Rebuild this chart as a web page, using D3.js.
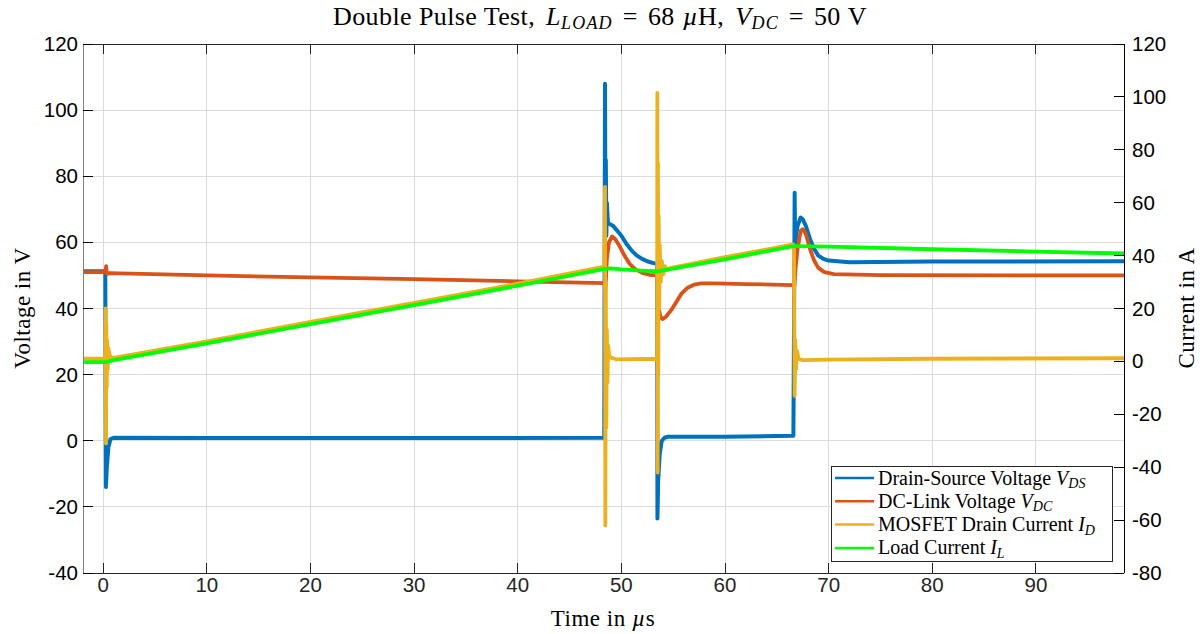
<!DOCTYPE html>
<html><head><meta charset="utf-8">
<script src="https://cdn.jsdelivr.net/npm/d3@7"></script>
<style>body{margin:0;background:#fff}svg{display:block}</style>
</head><body><svg id="c" width="1200" height="634"></svg>
<script>
// ---- data (time in µs) ----
const xTicks = [0,10,20,30,40,50,60,70,80,90];
const yLeftTicks = [-40,-20,0,20,40,60,80,100,120];
const yRightTicks = [-80,-60,-40,-20,0,20,40,60,80,100,120];
const seriesNames = ["Drain-Source Voltage","DC-Link Voltage","MOSFET Drain Current","Load Current"];
const seriesSubs = [["V","DS"],["V","DC"],["I","D"],["I","L"]];
const seriesColors = ["#0072BD","#D95319","#EDB120","#00FF00"];

const vds = [[-1.95,51.3],[0.2,51.3],[0.26,-14],[0.35,-8],[0.5,-2],[0.7,0.5],[1.0,0.9],[10,0.8],[30,0.8],[48.35,0.9],
  [48.42,108],[48.46,70],[48.5,85],[48.55,62],[48.6,72],[48.7,66],[48.9,65.5],[49.2,65],[49.6,63.5],[50,62],[50.5,59.5],
  [51,57.5],[51.5,56],[52,55],[52.5,54.3],[53,53.8],[53.45,53.5],
  [53.48,-23.5],[53.55,-12],[53.7,-4],[53.9,0],[54.2,1],[54.5,1.2],[60,1.2],[66.6,1.5],
  [66.65,30],[66.72,75],[66.78,55],[66.85,62],[67.0,65],[67.3,67.5],[67.5,67],[67.8,65],[68.2,61],[68.6,58],
  [69,56],[69.5,55],[70,54.5],[72,54],[80,54.2],[98.5,54.3]];
const vdc = [[-1.95,51.0],[0.2,51.0],[0.28,52.8],[0.35,50.5],[0.6,50.7],[10,50.0],[20,49.4],[30,48.9],[40,48.2],[48.4,47.7],
  [48.45,45],[48.6,55],[48.8,60],[49.1,61.8],[49.4,61],[49.8,59],[50.3,56],[50.8,53.5],[51.3,52],[52,50.8],[52.7,50.2],[53.45,50],
  [53.5,45],[53.6,40],[53.8,37.2],[54.0,36.8],[54.3,37.5],[54.8,39.5],[55.3,42],[55.8,44.5],[56.4,46.3],[57,47.2],[57.7,47.6],
  [59,47.6],[62,47.4],[66.6,47.1],
  [66.7,47],[66.8,52],[67.0,58],[67.3,63.5],[67.5,64],[67.8,62.5],[68.2,58],[68.6,54.5],[69,52.3],[69.6,51],[70.5,50.4],[75,50.1],[98.5,50.0]];
const iD = [[-1.95,1.0],[0.2,1.0],[0.24,20],[0.27,-31],[0.3,14],[0.34,-10],[0.38,8],[0.44,-3],[0.5,5],[0.6,2.5],[0.8,1.5],
  [1,1.3],[10,7.6],[20,14.9],[30,22.1],[40,29.4],[48.35,35.8],
  [48.42,66],[48.45,-62],[48.5,30],[48.55,-25],[48.6,12],[48.66,-8],[48.72,6],[48.8,3],[48.9,1.5],[49.5,0.8],[53.45,1.0],
  [53.47,101.5],[53.5,-42],[53.53,75],[53.56,-5],[53.6,55],[53.65,20],[53.7,44],[53.8,30],[53.9,38],[54.05,33],[54.2,36],
  [54.4,34.5],[54.7,35.3],[60,39.4],[66.6,44.2],
  [66.65,43],[66.72,-13],[66.78,8],[66.85,-3],[66.95,4],[67.1,1],[67.5,0.5],[70,0.7],[80,1.0],[98.5,1.2]];
const iL = [[-1.95,-0.3],[0.3,-0.3],[1,0.5],[10,6.8],[20,14.1],[30,21.3],[40,28.6],[48.4,35.0],[49,35.2],[50,34.8],
  [52,34.3],[53.5,34.0],[54,34.4],[60,38.6],[66.6,43.6],[67,43.6],[70,43.4],[80,42.4],[90,41.5],[98.5,40.8]];

// ---- layout ----
const svg = d3.select("#c");
const L = 83, R = 1124, T = 44, B = 573;
const x = d3.scaleLinear().domain([-1.95, 98.5]).range([L, R]);
const yL = d3.scaleLinear().domain([-40, 120]).range([B, T]);
const yR = d3.scaleLinear().domain([-80, 120]).range([B, T]);
const sans = "'Liberation Sans', Arial, sans-serif";
const serif = "'Liberation Serif', 'DejaVu Serif', serif";
const tickFs = 20.5;

svg.append("defs").append("clipPath").attr("id","clip")
  .append("rect").attr("x",L).attr("y",T).attr("width",R-L).attr("height",B-T);

// grid
const grid = svg.append("g").attr("stroke","#dcdcdc").attr("stroke-width",1).attr("shape-rendering","crispEdges");
xTicks.forEach(t => grid.append("line").attr("x1",x(t)).attr("x2",x(t)).attr("y1",T).attr("y2",B));
yLeftTicks.forEach(v => grid.append("line").attr("x1",L).attr("x2",R).attr("y1",yL(v)).attr("y2",yL(v)));

// lines
const plot = svg.append("g").attr("clip-path","url(#clip)");
function draw(data, ys, color, w){
  const line = d3.line().x(d => x(d[0])).y(d => ys(d[1]));
  plot.append("path").datum(data).attr("d", line).attr("fill","none")
    .attr("stroke", color).attr("stroke-width", w).attr("stroke-linejoin","round");
}
draw(vds, yL, seriesColors[0], 4);
draw(vdc, yL, seriesColors[1], 3.8);
draw(iD, yR, seriesColors[2], 3.8);
draw(iL, yR, seriesColors[3], 3.8);

// axes box
const ax = svg.append("g").attr("shape-rendering","crispEdges");
ax.append("line").attr("x1",L).attr("x2",R).attr("y1",T).attr("y2",T).attr("stroke","#262626");
ax.append("line").attr("x1",L).attr("x2",R).attr("y1",B).attr("y2",B).attr("stroke","#262626");
ax.append("line").attr("x1",L).attr("x2",L).attr("y1",T).attr("y2",B).attr("stroke","#808080");
ax.append("line").attr("x1",R).attr("x2",R).attr("y1",T).attr("y2",B).attr("stroke","#000");

// ticks and labels
const tl = 10;
xTicks.forEach(t => {
  ax.append("line").attr("x1",x(t)).attr("x2",x(t)).attr("y1",B).attr("y2",B-tl).attr("stroke","#262626");
  ax.append("line").attr("x1",x(t)).attr("x2",x(t)).attr("y1",T).attr("y2",T+tl).attr("stroke","#262626");
  svg.append("text").attr("x",x(t)).attr("y",B+19).attr("text-anchor","middle")
    .attr("font-family",sans).attr("font-size",tickFs).attr("fill","#262626").text(t);
});
yLeftTicks.forEach(v => {
  ax.append("line").attr("x1",L).attr("x2",L+tl).attr("y1",yL(v)).attr("y2",yL(v)).attr("stroke","#000");
  svg.append("text").attr("x",L-5).attr("y",yL(v)+7).attr("text-anchor","end")
    .attr("font-family",sans).attr("font-size",tickFs).attr("fill","#000").text(v);
});
yRightTicks.forEach(v => {
  ax.append("line").attr("x1",R).attr("x2",R-tl).attr("y1",yR(v)).attr("y2",yR(v)).attr("stroke","#000");
  svg.append("text").attr("x",R+8).attr("y",yR(v)+7).attr("text-anchor","start")
    .attr("font-family",sans).attr("font-size",tickFs).attr("fill","#000").text(v);
});

// titles
function mathText(sel, parts){
  parts.forEach(p => {
    const ts = sel.append("tspan").text(p.t);
    if (p.i) ts.attr("font-style","italic");
    if (p.dy) ts.attr("dy", p.dy);
    if (p.dx) ts.attr("dx", p.dx);
    if (p.fs) ts.attr("font-size", p.fs);
    if (p.ls) ts.attr("letter-spacing", p.ls);
  });
}
const title = svg.append("text").attr("x",600).attr("y",25).attr("text-anchor","middle")
  .attr("font-family",serif).attr("font-size",26).attr("letter-spacing",0.4).attr("fill","#000");
mathText(title, [{t:"Double Pulse Test,"},{t:"L",i:1,dx:11},{t:"LOAD",i:1,dy:4,fs:18,ls:1.2},{t:"=",dy:-4,dx:10},
  {t:"68",dx:10},{t:"µ",i:1,dx:8},{t:"H,"},{t:"V",i:1,dx:11},{t:"DC",i:1,dy:4,fs:18,ls:1.2},{t:"=",dy:-4,dx:10},
  {t:"50",dx:10},{t:"V",dx:7}]);

svg.append("text").attr("x",603).attr("y",626).attr("text-anchor","middle")
  .attr("font-family",serif).attr("font-size",23).attr("letter-spacing",0.5).attr("fill","#000")
  .call(s => mathText(s,[{t:"Time in "},{t:"µ",i:1},{t:"s"}]));
svg.append("text").attr("transform","translate(30,308) rotate(-90)").attr("text-anchor","middle")
  .attr("font-family",serif).attr("font-size",23).attr("letter-spacing",0.5).attr("fill","#000").text("Voltage in V");
svg.append("text").attr("transform","translate(1194,308) rotate(-90)").attr("text-anchor","middle")
  .attr("font-family",serif).attr("font-size",23).attr("letter-spacing",0.5).attr("fill","#000").text("Current in A");

// legend
const lg = svg.append("g");
lg.append("rect").attr("x",831.5).attr("y",466.5).attr("width",281).attr("height",95)
  .attr("fill","#fff").attr("stroke","#262626").attr("stroke-width",1);
seriesNames.forEach((n,i) => {
  const yy = 478 + i*23.3;
  lg.append("line").attr("x1",835).attr("x2",874).attr("y1",yy).attr("y2",yy)
    .attr("stroke",seriesColors[i]).attr("stroke-width",2.5);
  const tx = lg.append("text").attr("x",878).attr("y",yy+6.5)
    .attr("font-family",serif).attr("font-size",20).attr("fill","#000");
  mathText(tx,[{t:n+" "},{t:seriesSubs[i][0],i:1},{t:seriesSubs[i][1],i:1,dy:3.5,fs:14}]);
});
</script></body></html>
